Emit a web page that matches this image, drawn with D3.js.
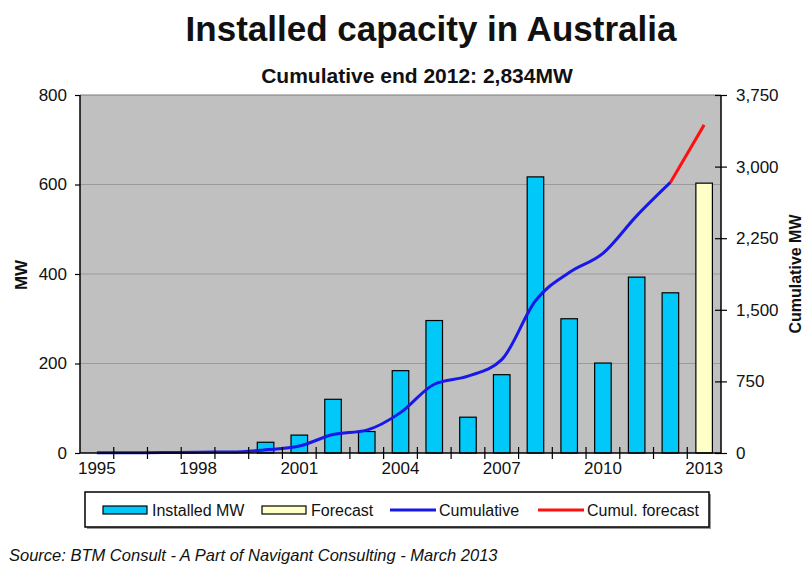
<!DOCTYPE html>
<html>
<head>
<meta charset="utf-8">
<script src="https://cdn.jsdelivr.net/npm/d3@7"></script>
<style>
  body { margin: 0; background: #fff; }
  svg { font-family: "Liberation Sans", Arial, sans-serif; }
</style>
</head>
<body>
<div id="chart"></div>
<script>
// values
let years = [1995, 1996, 1997, 1998, 1999, 2000, 2001, 2002, 2003, 2004, 2005, 2006, 2007, 2008, 2009, 2010, 2011, 2012, 2013];
let installed = [0, 0, 0, 0, 0, 24, 40, 120, 48, 184, 296, 80, 175, 617, 300, 201, 393, 358];
let forecast = [{year: 2013, value: 603}];
let cumulative = [2, 2, 4, 9, 10, 33, 73, 193, 240, 423, 720, 805, 978, 1595, 1890, 2091, 2484, 2834];
let cumForecast = [{year: 2012, value: 2834}, {year: 2013, value: 3437}];
let leftTicks = [0, 200, 400, 600, 800];
let rightTicks = [0, 750, 1500, 2250, 3000, 3750];
let labelYears = [1995, 1998, 2001, 2004, 2007, 2010, 2013];

let width = 806;
let height = 567;
let plot = {left: 80, right: 721, top: 95, bottom: 453};

let svg = d3.select("#chart").append("svg")
  .attr("width", width)
  .attr("height", height);

let x = d3.scaleBand()
  .domain(years)
  .range([plot.left, plot.right])
  .padding(0);

let y = d3.scaleLinear().domain([0, 800]).range([plot.bottom, plot.top]);
let y2 = d3.scaleLinear().domain([0, 3750]).range([plot.bottom, plot.top]);

let barW = x.bandwidth() * 0.49;
let cx = (yr) => x(yr) + x.bandwidth() / 2;

// plot background
svg.append("rect")
  .attr("x", plot.left).attr("y", plot.top)
  .attr("width", plot.right - plot.left)
  .attr("height", plot.bottom - plot.top)
  .attr("fill", "#c0c0c0");

// gridlines
svg.append("g")
  .selectAll("line")
  .data(leftTicks.slice(1))
  .enter()
  .append("line")
  .attr("x1", plot.left).attr("x2", plot.right)
  .attr("y1", d => y(d)).attr("y2", d => y(d))
  .attr("stroke", (d) => d == 800 ? "#7a7a7a" : "#9a9a9a")
  .attr("stroke-width", 1);

// installed bars
let bars = years.slice(0, installed.length).map((yr, i) => ({year: yr, value: installed[i]}));
svg.append("g")
  .selectAll("rect")
  .data(bars.filter(d => d.value > 0))
  .enter()
  .append("rect")
  .attr("x", d => cx(d.year) - barW / 2)
  .attr("y", d => y(d.value))
  .attr("width", barW)
  .attr("height", d => y(0) - y(d.value))
  .attr("fill", "#00c8f8")
  .attr("stroke", "#000")
  .attr("stroke-width", 1.2);

// forecast bar
svg.append("g")
  .selectAll("rect")
  .data(forecast)
  .enter()
  .append("rect")
  .attr("x", d => cx(d.year) - barW / 2)
  .attr("y", d => y(d.value))
  .attr("width", barW)
  .attr("height", d => y(0) - y(d.value))
  .attr("fill", "#ffffc8")
  .attr("stroke", "#000")
  .attr("stroke-width", 1.2);

// cumulative line
let cum = years.slice(0, cumulative.length).map((yr, i) => ({year: yr, value: cumulative[i]}));
let line = d3.line()
  .x(d => cx(d.year))
  .y(d => y2(d.value))
  .curve(d3.curveMonotoneX);

svg.append("path")
  .datum(cum)
  .attr("d", line)
  .attr("fill", "none")
  .attr("stroke", "#1818e8")
  .attr("stroke-width", 3);

svg.append("path")
  .datum(cumForecast)
  .attr("d", line)
  .attr("fill", "none")
  .attr("stroke", "#ff1010")
  .attr("stroke-width", 3);

// left axis
let leftAxis = svg.append("g")
  .attr("transform", "translate(" + plot.left + ",0)")
  .call(d3.axisLeft(y).tickValues(leftTicks).tickSize(5).tickPadding(8));

// right axis
let rightAxis = svg.append("g")
  .attr("transform", "translate(" + plot.right + ",0)")
  .call(d3.axisRight(y2).tickValues(rightTicks).tickSize(6).tickPadding(9).tickFormat(d3.format(",")));
rightAxis.selectAll(".tick line").attr("x1", -6);

// bottom axis: boundary ticks + labels every 3 years
let bottomAxis = svg.append("g")
  .attr("transform", "translate(0," + plot.bottom + ")")
  .call(d3.axisBottom(x).tickValues(labelYears).tickSize(0).tickPadding(9));
bottomAxis.selectAll(".tick line").remove();
svg.append("g")
  .selectAll("line")
  .data(years.slice(1))
  .enter()
  .append("line")
  .attr("x1", d => x(d)).attr("x2", d => x(d))
  .attr("y1", plot.bottom - 6).attr("y2", plot.bottom + 6)
  .attr("stroke", "#000")
  .attr("stroke-width", 1.2);

[leftAxis, rightAxis, bottomAxis].forEach(function(g) {
  g.select(".domain").attr("stroke", "#000").attr("stroke-width", 1.5);
  g.selectAll(".tick line").attr("stroke", "#000").attr("stroke-width", 1.2);
  g.selectAll("text")
    .attr("font-family", "'Liberation Sans', Arial, sans-serif")
    .attr("font-size", 17)
    .attr("fill", "#111");
});
leftAxis.select(".domain").attr("d", "M0," + plot.bottom + "V" + plot.top);
rightAxis.select(".domain").attr("d", "M0," + plot.bottom + "V" + plot.top);
bottomAxis.select(".domain").attr("d", "M" + plot.left + ",0H" + plot.right);

// titles
svg.append("text")
  .attr("x", 431).attr("y", 41)
  .attr("text-anchor", "middle")
  .attr("font-size", 35).attr("font-weight", "bold")
  .attr("fill", "#111")
  .text("Installed capacity in Australia");

svg.append("text")
  .attr("x", 417).attr("y", 83)
  .attr("text-anchor", "middle")
  .attr("font-size", 21).attr("font-weight", "bold")
  .attr("fill", "#111")
  .text("Cumulative end 2012: 2,834MW");

svg.append("text")
  .attr("transform", "translate(27,275) rotate(-90)")
  .attr("text-anchor", "middle")
  .attr("font-size", 17).attr("font-weight", "bold")
  .attr("fill", "#111")
  .text("MW");

svg.append("text")
  .attr("transform", "translate(801,274) rotate(-90)")
  .attr("text-anchor", "middle")
  .attr("font-size", 16).attr("font-weight", "bold")
  .attr("fill", "#111")
  .text("Cumulative MW");

// legend
let legend = svg.append("g");
legend.append("rect")
  .attr("x", 87).attr("y", 494)
  .attr("width", 624).attr("height", 35)
  .attr("fill", "#999");
legend.append("rect")
  .attr("x", 85).attr("y", 492)
  .attr("width", 624).attr("height", 35)
  .attr("fill", "#fff")
  .attr("stroke", "#000")
  .attr("stroke-width", 1.5);

let legendItems = [
  {label: "Installed MW", kind: "bar", fill: "#00c8f8", x0: 103},
  {label: "Forecast", kind: "bar", fill: "#ffffc8", x0: 262},
  {label: "Cumulative", kind: "line", fill: "#1818e8", x0: 390},
  {label: "Cumul. forecast", kind: "line", fill: "#ff1010", x0: 538}
];

legendItems.forEach(function(d) {
  if (d.kind == "bar") {
    legend.append("rect")
      .attr("x", d.x0).attr("y", 506)
      .attr("width", 44).attr("height", 8)
      .attr("fill", d.fill)
      .attr("stroke", "#000")
      .attr("stroke-width", 1.2);
  } else {
    legend.append("line")
      .attr("x1", d.x0).attr("x2", d.x0 + 46)
      .attr("y1", 510).attr("y2", 510)
      .attr("stroke", d.fill)
      .attr("stroke-width", 3);
  }
  legend.append("text")
    .attr("x", d.x0 + 49).attr("y", 515.5)
    .attr("font-size", 16)
    .attr("fill", "#111")
    .text(d.label);
});

// source
svg.append("text")
  .attr("x", 9).attr("y", 561)
  .attr("font-size", 16.5).attr("font-style", "italic")
  .attr("fill", "#111")
  .text("Source: BTM Consult - A Part of Navigant Consulting - March 2013");
</script>
</body>
</html>
